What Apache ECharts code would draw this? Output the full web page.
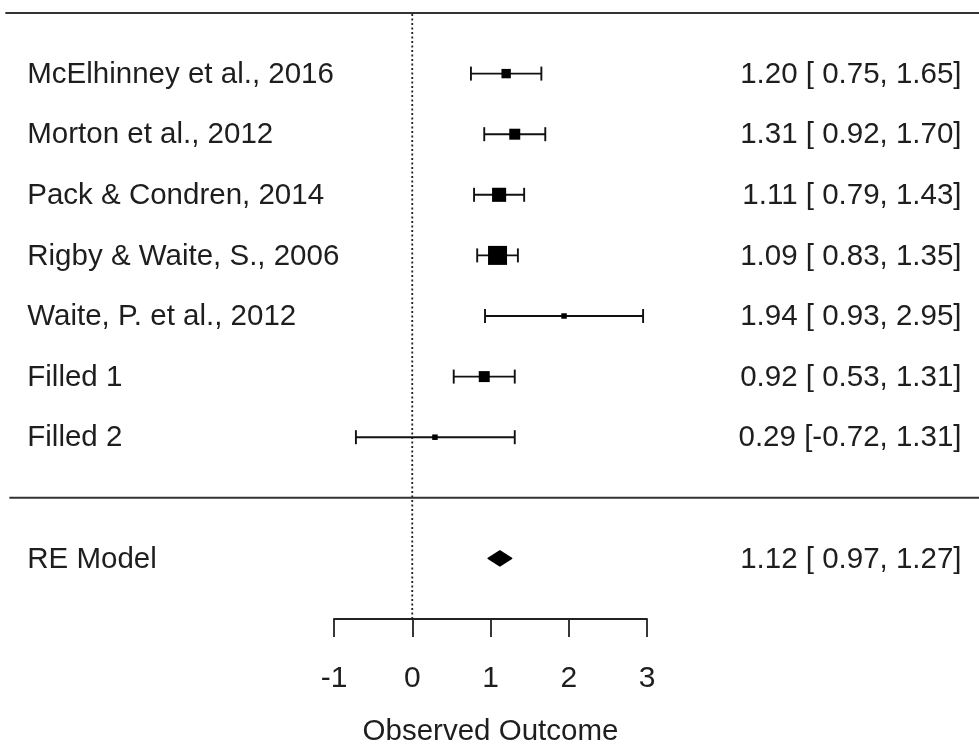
<!DOCTYPE html>
<html>
<head>
<meta charset="utf-8">
<script src="https://cdn.jsdelivr.net/npm/echarts@6/dist/echarts.min.js"></script>
<style>html,body{margin:0;padding:0;background:#fff;}#c{width:979px;height:745px;}</style>
</head>
<body>
<div id="c"></div>
<script>
// ---- data ----
const studies = ["McElhinney et al., 2016", "Morton et al., 2012", "Pack & Condren, 2014",
  "Rigby & Waite, S., 2006", "Waite, P. et al., 2012", "Filled 1", "Filled 2"];
const est = [1.20, 1.31, 1.11, 1.09, 1.94, 0.92, 0.29];
const lo  = [0.75, 0.92, 0.79, 0.83, 0.93, 0.53, -0.72];
const hi  = [1.65, 1.70, 1.43, 1.35, 2.95, 1.31, 1.31];
const modelLabel = "RE Model";
const modelEst = 1.12, modelLo = 0.97, modelHi = 1.27;
const xTicks = [-1, 0, 1, 2, 3];
const axisTitle = "Observed Outcome";

// ---- layout ----
const FONT = "'Liberation Sans', Arial, sans-serif";
const FS = 29.5;
const TXT = '#1e1e1e';
const X_LEFT_TEXT = -4.92, X_RIGHT_TEXT = 7.02, X_RULE_L = -5.2, X_RULE_R = 7.4;
const k = studies.length;
const rowY = studies.map((s, i) => k - i);   // 7..1
const modelY = -1;

function fmt(v) { return (v < 0 ? '' : ' ') + v.toFixed(2); }
function ciText(e, l, h) { return e.toFixed(2) + ' [' + fmt(l) + ', ' + h.toFixed(2) + ']'; }

// weights (inverse variance) -> square size
const wi = lo.map((l, i) => { const se = (hi[i] - l) / 3.92; return 1 / (se * se); });
const wMin = Math.min(...wi), wMax = Math.max(...wi);
const sizeOf = i => 5.5 + (wi[i] - wMin) / (wMax - wMin) * (19 - 5.5);

const studyData = studies.map((s, i) => [est[i], rowY[i], lo[i], hi[i], i]);
const textData = studies.map((s, i) => [rowY[i], s, ciText(est[i], lo[i], hi[i])]);
textData.push([modelY, modelLabel, ciText(modelEst, modelLo, modelHi)]);

const chart = echarts.init(document.getElementById('c'), null, { renderer: 'canvas' });
chart.setOption({
  backgroundColor: '#fff',
  animation: false,
  grid: { left: 334, right: 332, top: 13, bottom: 126, containLabel: false, outerBoundsMode: 'none' },
  xAxis: {
    type: 'value', min: -1, max: 3, interval: 1,
    axisLine: { show: true, onZero: false, lineStyle: { color: '#222', width: 1.8 } },
    axisTick: { show: true, length: 18, lineStyle: { color: '#222', width: 1.8 } },
    splitLine: { show: false },
    axisLabel: { fontSize: 30, fontFamily: FONT, color: TXT, margin: 45,
      formatter: v => xTicks.includes(v) ? String(v) : '' },
    name: axisTitle, nameLocation: 'middle', nameGap: 98,
    nameTextStyle: { fontSize: 29.5, fontFamily: FONT, color: TXT }
  },
  yAxis: { type: 'value', min: -2, max: 8, show: false },
  series: [
    { // reference line at 0
      type: 'line', data: [[0, -2], [0, 8]], symbol: 'none', silent: true,
      lineStyle: { type: [2, 2.5], color: '#222', width: 1.8 }, z: 1
    },
    { // horizontal rules (top and separator)
      type: 'custom', clip: false, silent: true, z: 2,
      data: [[k + 1], [0]],
      renderItem: (params, api) => {
        const y = api.value(0);
        const p1 = api.coord([X_RULE_L, y]);
        const p2 = api.coord([X_RULE_R, y]);
        return { type: 'line', shape: { x1: p1[0] + (y === 0 ? 4 : 0), y1: p1[1], x2: p2[0], y2: p2[1] },
          style: { stroke: '#333', lineWidth: 2 } };
      }
    },
    { // study CIs and squares
      type: 'custom', clip: false, silent: true, z: 3,
      data: studyData,
      renderItem: (params, api) => {
        const e = api.value(0), y = api.value(1), l = api.value(2), h = api.value(3), idx = api.value(4);
        const pl = api.coord([l, y]), ph = api.coord([h, y]), pe = api.coord([e, y]);
        const cap = 7, s = sizeOf(idx);
        const st = { stroke: '#111', lineWidth: 1.9 };
        return { type: 'group', children: [
          { type: 'line', shape: { x1: pl[0], y1: pl[1], x2: ph[0], y2: ph[1] }, style: st },
          { type: 'line', shape: { x1: pl[0], y1: pl[1] - cap, x2: pl[0], y2: pl[1] + cap }, style: st },
          { type: 'line', shape: { x1: ph[0], y1: ph[1] - cap, x2: ph[0], y2: ph[1] + cap }, style: st },
          { type: 'rect', shape: { x: pe[0] - s / 2, y: pe[1] - s / 2, width: s, height: s }, style: { fill: '#000' } }
        ] };
      }
    },
    { // summary diamond
      type: 'custom', clip: false, silent: true, z: 3,
      data: [[modelEst, modelY, modelLo, modelHi]],
      renderItem: (params, api) => {
        const e = api.value(0), y = api.value(1), l = api.value(2), h = api.value(3);
        const pl = api.coord([l, y]), ph = api.coord([h, y]), pe = api.coord([e, y]);
        const hh = 7.5;
        return { type: 'polygon', shape: { points: [[pl[0], pl[1]], [pe[0], pe[1] - hh], [ph[0], ph[1]], [pe[0], pe[1] + hh]] },
          style: { fill: '#000', stroke: '#000', lineWidth: 1.5, lineJoin: 'round' } };
      }
    },
    { // left and right text columns
      type: 'custom', clip: false, silent: true, z: 4,
      data: textData,
      renderItem: (params, api) => {
        const y = api.value(0);
        const item = textData[params.dataIndex];
        const pl = api.coord([X_LEFT_TEXT, y]), pr = api.coord([X_RIGHT_TEXT, y]);
        return { type: 'group', children: [
          { type: 'text', x: pl[0], y: pl[1] + 1, style: { text: item[1], fontSize: FS, fontFamily: FONT, fill: TXT, align: 'left', verticalAlign: 'middle' } },
          { type: 'text', x: pr[0], y: pr[1] + 1, style: { text: item[2], fontSize: FS, fontFamily: FONT, fill: TXT, align: 'right', verticalAlign: 'middle' } }
        ] };
      }
    }
  ]
});
</script>
</body>
</html>
